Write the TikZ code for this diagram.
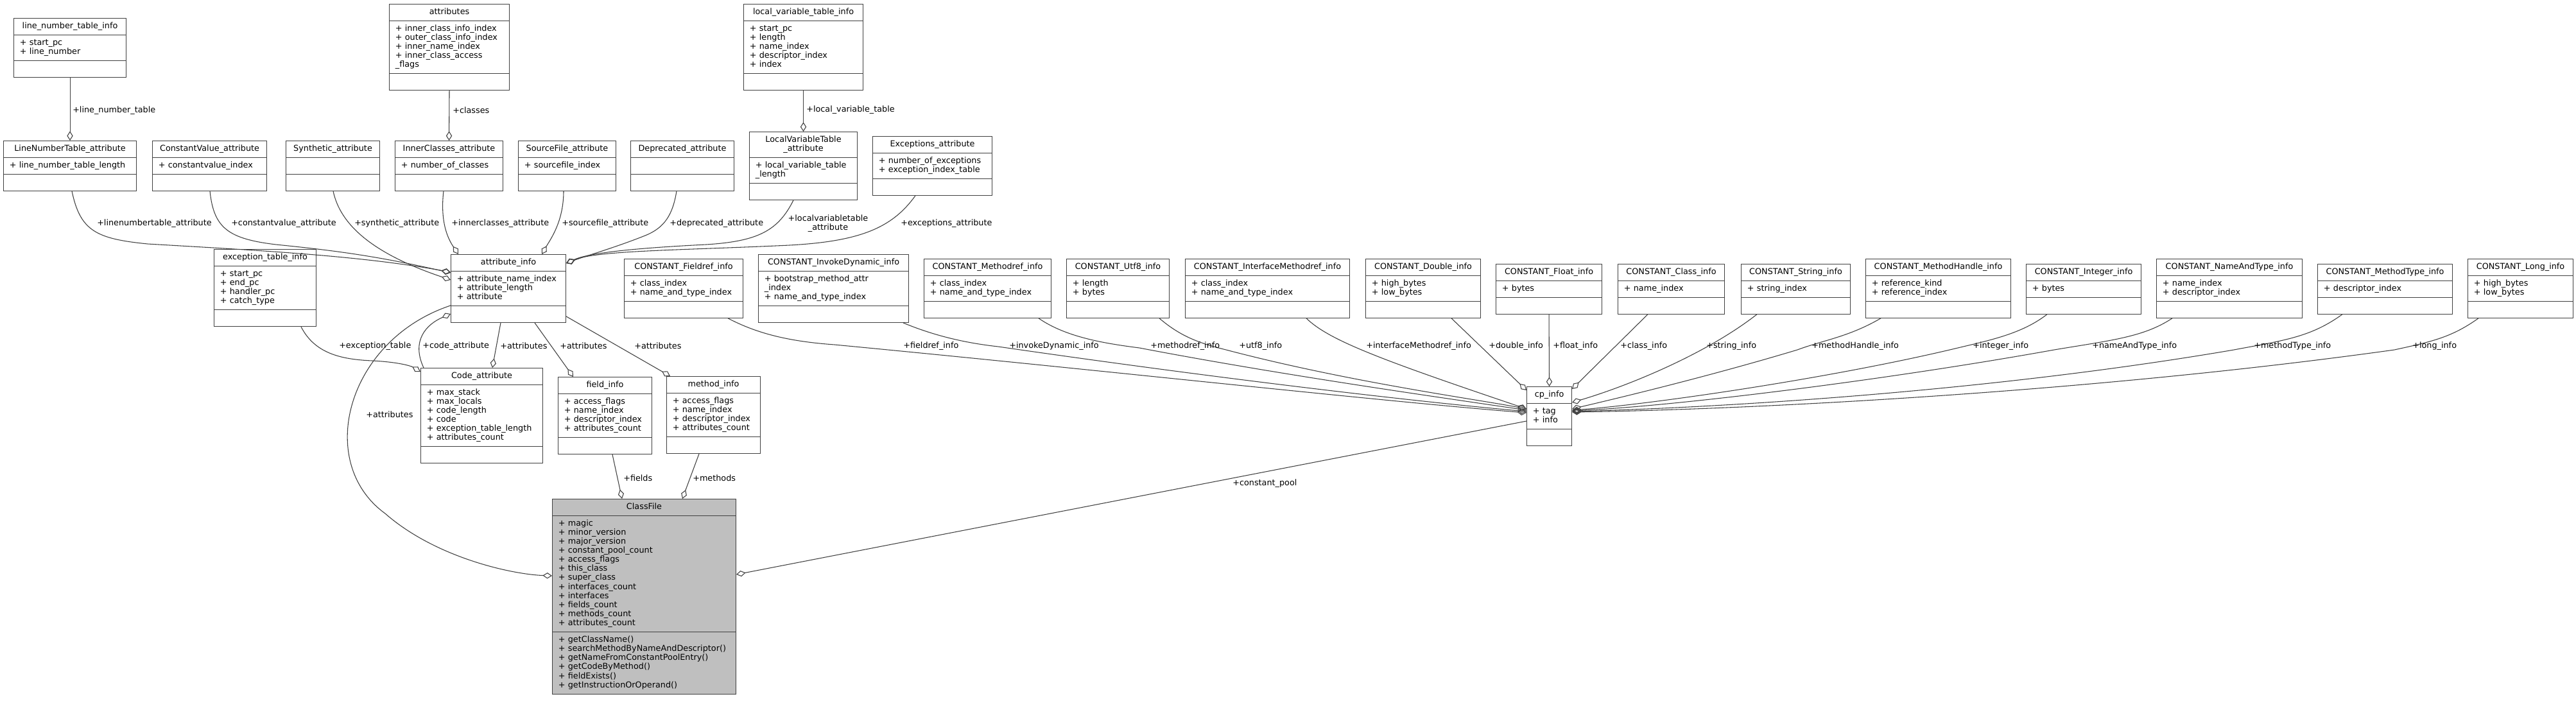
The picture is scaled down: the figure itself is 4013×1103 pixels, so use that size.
\documentclass[tikz,border=0pt]{standalone}
\usepackage{fontspec}
\setmainfont{DejaVu Sans}
\usetikzlibrary{shapes.multipart,arrows.meta,calc}
\definecolor{edgegray}{HTML}{404040}
\definecolor{focusgray}{HTML}{BFBFBF}
\newcommand{\umlfont}{\fontsize{9.6}{10.6}\selectfont}
\newcommand{\attr}[1]{\strut+ #1}
\newcommand{\ctitle}[1]{\makebox[\linewidth]{\strut #1}}
\tikzset{% class boxes in three parts: name, members, methods
   umlclass/.style={rectangle split, rectangle split parts=3, draw=edgegray,
      line width=0.8pt, fill=white, anchor=north west, text width=#1,
      inner xsep=7pt, inner ysep=4pt, align=left, font=\umlfont},
   focusclass/.style={umlclass=#1, fill=focusgray},
   % aggregation: open diamond at the owning class
   agg/.style={draw=edgegray, line width=0.8pt,
      -{Diamond[open, length=11pt, width=7pt]}},
   role/.style={inner sep=0pt, anchor=west, font=\umlfont}
}

\begin{document}
\begin{tikzpicture}[x=0.75pt, y=-0.75pt]
\path[use as bounding box, fill=white] (0,0) rectangle (4013,1103);

% attribute classes
\node[umlclass=117.25pt] (lnti) at (21,28) {\ctitle{line\_number\_table\_info}\nodepart{two}\attr{start\_pc}\\\attr{line\_number}\nodepart{three}\strut};
\node[umlclass=126.25pt] (attrs) at (606,6) {\ctitle{attributes}\nodepart{two}\attr{inner\_class\_info\_index}\\\attr{outer\_class\_info\_index}\\\attr{inner\_name\_index}\\\attr{inner\_class\_access}\\\strut\_flags\nodepart{three}\strut};
\node[umlclass=125.5pt] (lvti) at (1158,6) {\ctitle{local\_variable\_table\_info}\nodepart{two}\attr{start\_pc}\\\attr{length}\\\attr{name\_index}\\\attr{descriptor\_index}\\\attr{index}\nodepart{three}\strut};
\node[umlclass=141.25pt] (lnta) at (5,219) {\ctitle{LineNumberTable\_attribute}\nodepart{two}\attr{line\_number\_table\_length}\nodepart{three}\strut};
\node[umlclass=119.5pt] (cva) at (237,219) {\ctitle{ConstantValue\_attribute}\nodepart{two}\attr{constantvalue\_index}\nodepart{three}\strut};
\node[umlclass=95.5pt] (synth) at (445,219) {\ctitle{Synthetic\_attribute}\nodepart{two}\strut\nodepart{three}\strut};
\node[umlclass=112pt] (inner) at (615,219) {\ctitle{InnerClasses\_attribute}\nodepart{two}\attr{number\_of\_classes}\nodepart{three}\strut};
\node[umlclass=100pt] (srcf) at (807,219) {\ctitle{SourceFile\_attribute}\nodepart{two}\attr{sourcefile\_index}\nodepart{three}\strut};
\node[umlclass=106.75pt] (depr) at (982,219) {\ctitle{Deprecated\_attribute}\nodepart{two}\strut\nodepart{three}\strut};
\node[umlclass=112pt] (lvta) at (1167,205) {\ctitle{LocalVariableTable}\\\ctitle{\_attribute}\nodepart{two}\attr{local\_variable\_table}\\\strut\_length\nodepart{three}\strut};
\node[umlclass=125.5pt] (excattr) at (1359,212) {\ctitle{Exceptions\_attribute}\nodepart{two}\attr{number\_of\_exceptions}\\\attr{exception\_index\_table}\nodepart{three}\strut};
\node[umlclass=105.25pt] (eti) at (333,388) {\ctitle{exception\_table\_info}\nodepart{two}\attr{start\_pc}\\\attr{end\_pc}\\\attr{handler\_pc}\\\attr{catch\_type}\nodepart{three}\strut};
\node[umlclass=120.25pt] (ainfo) at (702,396) {\ctitle{attribute\_info}\nodepart{two}\attr{attribute\_name\_index}\\\attr{attribute\_length}\\\attr{attribute}\nodepart{three}\strut};
\node[umlclass=128.5pt] (code) at (655,573) {\ctitle{Code\_attribute}\nodepart{two}\attr{max\_stack}\\\attr{max\_locals}\\\attr{code\_length}\\\attr{code}\\\attr{exception\_table\_length}\\\attr{attributes\_count}\nodepart{three}\strut};
\node[umlclass=95.5pt] (field) at (869,587) {\ctitle{field\_info}\nodepart{two}\attr{access\_flags}\\\attr{name\_index}\\\attr{descriptor\_index}\\\attr{attributes\_count}\nodepart{three}\strut};
\node[umlclass=95.5pt] (method) at (1038,586) {\ctitle{method\_info}\nodepart{two}\attr{access\_flags}\\\attr{name\_index}\\\attr{descriptor\_index}\\\attr{attributes\_count}\nodepart{three}\strut};
\node[focusclass=200.5pt] (cfile) at (860,777) {\ctitle{ClassFile}\nodepart{two}\attr{magic}\\\attr{minor\_version}\\\attr{major\_version}\\\attr{constant\_pool\_count}\\\attr{access\_flags}\\\attr{this\_class}\\\attr{super\_class}\\\attr{interfaces\_count}\\\attr{interfaces}\\\attr{fields\_count}\\\attr{methods\_count}\\\attr{attributes\_count}\nodepart{three}\attr{getClassName()}\\\attr{searchMethodByNameAndDescriptor()}\\\attr{getNameFromConstantPoolEntry()}\\\attr{getCodeByMethod()}\\\attr{fieldExists()}\\\attr{getInstructionOrOperand()}};

% constant pool classes
\node[umlclass=124.75pt] (cfield) at (972,403) {\ctitle{CONSTANT\_Fieldref\_info}\nodepart{two}\attr{class\_index}\\\attr{name\_and\_type\_index}\nodepart{three}\strut};
\node[umlclass=161.5pt] (cinvoke) at (1181,396) {\ctitle{CONSTANT\_InvokeDynamic\_info}\nodepart{two}\attr{bootstrap\_method\_attr}\\\strut\_index\\\attr{name\_and\_type\_index}\nodepart{three}\strut};
\node[umlclass=134.5pt] (cmethod) at (1439,403) {\ctitle{CONSTANT\_Methodref\_info}\nodepart{two}\attr{class\_index}\\\attr{name\_and\_type\_index}\nodepart{three}\strut};
\node[umlclass=106pt] (cutf) at (1661,403) {\ctitle{CONSTANT\_Utf8\_info}\nodepart{two}\attr{length}\\\attr{bytes}\nodepart{three}\strut};
\node[umlclass=178pt] (ciface) at (1846,403) {\ctitle{CONSTANT\_InterfaceMethodref\_info}\nodepart{two}\attr{class\_index}\\\attr{name\_and\_type\_index}\nodepart{three}\strut};
\node[umlclass=120.25pt] (cdouble) at (2127,403) {\ctitle{CONSTANT\_Double\_info}\nodepart{two}\attr{high\_bytes}\\\attr{low\_bytes}\nodepart{three}\strut};
\node[umlclass=109.75pt] (cfloat) at (2330,411) {\ctitle{CONSTANT\_Float\_info}\nodepart{two}\attr{bytes}\nodepart{three}\strut};
\node[umlclass=110.5pt] (cclass) at (2520,411) {\ctitle{CONSTANT\_Class\_info}\nodepart{two}\attr{name\_index}\nodepart{three}\strut};
\node[umlclass=113.5pt] (cstring) at (2712,411) {\ctitle{CONSTANT\_String\_info}\nodepart{two}\attr{string\_index}\nodepart{three}\strut};
\node[umlclass=155.5pt] (chandle) at (2906,403) {\ctitle{CONSTANT\_MethodHandle\_info}\nodepart{two}\attr{reference\_kind}\\\attr{reference\_index}\nodepart{three}\strut};
\node[umlclass=120.25pt] (cint) at (3156,411) {\ctitle{CONSTANT\_Integer\_info}\nodepart{two}\attr{bytes}\nodepart{three}\strut};
\node[umlclass=156.25pt] (cnat) at (3359,403) {\ctitle{CONSTANT\_NameAndType\_info}\nodepart{two}\attr{name\_index}\\\attr{descriptor\_index}\nodepart{three}\strut};
\node[umlclass=143.5pt] (cmtype) at (3610,411) {\ctitle{CONSTANT\_MethodType\_info}\nodepart{two}\attr{descriptor\_index}\nodepart{three}\strut};
\node[umlclass=109pt] (clong) at (3844,403) {\ctitle{CONSTANT\_Long\_info}\nodepart{two}\attr{high\_bytes}\\\attr{low\_bytes}\nodepart{three}\strut};
\node[umlclass=38.5pt] (cp) at (2378,602) {\ctitle{cp\_info}\nodepart{two}\attr{tag}\\\attr{info}\nodepart{three}\strut};

% members of the attribute classes
\draw[agg] (lnti.south) -- (lnta.north);
\draw[agg] (attrs.south) -- (inner.north);
\draw[agg] (lvti.south) -- (lvta.north);
\node[role] (rlnt) at (113,172) {+line\_number\_table};
\node[role] (rcls) at (705,172) {+classes};
\node[role] (rlvt) at (1256,171) {+local\_variable\_table};

\draw[agg] ($(lnta.south west)+(107,0)$) .. controls (125,360) and (150,372) .. (230,380)
   .. controls (400,390) and (560,398) .. ($(ainfo.north west)+(0,28)$);
\draw[agg] ($(cva.south west)+(90,0)$) .. controls (333,355) and (355,372) .. (430,381)
   .. controls (540,392) and (600,402) .. ($(ainfo.north west)+(0,29)$);
\draw[agg] ($(synth.south west)+(74,0)$) .. controls (530,350) and (580,395) .. ($(ainfo.north west)+(0,40)$);
\draw[agg] ($(inner.south west)+(76,0)$) .. controls (685,350) and (700,375) .. ($(ainfo.north west)+(12,0)$);
\draw[agg] ($(srcf.south west)+(71,0)$) .. controls (878,345) and (858,372) .. ($(ainfo.north east)+(-38,0)$);
\draw[agg] ($(depr.south west)+(72,0)$) .. controls (1048,335) and (1035,355) .. (1005,367)
   .. controls (960,385) and (915,398) .. ($(ainfo.north east)+(0,14)$);
\draw[agg] ($(lvta.south west)+(69,0)$) .. controls (1212,360) and (1180,376) .. (1100,381)
   .. controls (1000,386) and (920,393) .. ($(ainfo.north east)+(0,14)$);
\draw[agg] ($(excattr.south west)+(67,0)$) .. controls (1390,355) and (1340,376) .. (1230,382)
   .. controls (1060,390) and (930,390) .. ($(ainfo.north east)+(0,14)$);
\node[role] (rlnta) at (151,348) {+linenumbertable\_attribute};
\node[role] (rcva) at (360,348) {+constantvalue\_attribute};
\node[role] (rsyn) at (552,348) {+synthetic\_attribute};
\node[role] (rinn) at (703,348) {+innerclasses\_attribute};
\node[role] (rsrc) at (875,348) {+sourcefile\_attribute};
\node[role] (rdep) at (1043,348) {+deprecated\_attribute};
\node[role, anchor=center, align=center] (rlvta) at (1290,348) {+localvariabletable\\\_attribute};
\node[role] (rexc) at (1403,348) {+exceptions\_attribute};

\draw[agg] ($(eti.south west)+(136,0)$) .. controls (490,550) and (530,560) .. (580,562)
   .. controls (620,564) and (640,570) .. ($(code.north west)+(0,6)$);
\draw[agg] ($(code.north west)+(5,0)$) .. controls (640,530) and (665,505) .. ($(ainfo.south west)+(0,-14)$);
\draw[agg] ($(ainfo.south west)+(78,0)$) -- ($(code.north west)+(112,0)$);
\draw[agg] ($(ainfo.south west)+(131,0)$) -- ($(field.north west)+(24,0)$);
\draw[agg] ($(ainfo.south east)+(0,-10)$) -- ($(method.north west)+(6,0)$);
\draw[agg] ($(ainfo.south west)+(0,-27)$) .. controls (540,530) and (490,720) .. (600,800)
   .. controls (680,870) and (800,895) .. ($(cfile.north west)+(0,120)$);
\node[role] (retab) at (528,539) {+exception\_table};
\node[role] (rcode) at (658,539) {+code\_attribute};
\node[role] (rattr1) at (779,539) {+attributes};
\node[role] (rattr2) at (872,539) {+attributes};
\node[role] (rattr3) at (988,539) {+attributes};
\node[role] (rattr4) at (570,646) {+attributes};

% members of ClassFile
\draw[agg] ($(field.south west)+(85,0)$) -- ($(cfile.north west)+(109,0)$);
\draw[agg] ($(method.south west)+(51,0)$) -- ($(cfile.north west)+(203,0)$);
\draw[agg] ($(cp.north west)+(0,54)$) -- ($(cfile.north east)+(0,118)$);
\node[role] (rfld) at (971,745) {+fields};
\node[role] (rmth) at (1079,745) {+methods};
\node[role] (rpool) at (1920,753) {+constant\_pool};

% members of cp_info
\draw[agg] ($(cfield.south west)+(162,0)$) .. controls (1180,520) and (1230,532) .. (1300,537)
   .. controls (1700,575) and (2150,625) .. ($(cp.north west)+(0,41)$);
\draw[agg] ($(cinvoke.south west)+(226,0)$) .. controls (1460,525) and (1510,535) .. (1555,540)
   .. controls (1900,590) and (2200,625) .. ($(cp.north west)+(0,39)$);
\draw[agg] ($(cmethod.south west)+(179,0)$) .. controls (1660,525) and (1720,535) .. (1775,542)
   .. controls (2000,585) and (2250,620) .. ($(cp.north west)+(0,37)$);
\draw[agg] ($(cutf.south west)+(145,0)$) .. controls (1840,525) and (1870,535) .. (1910,545)
   .. controls (2100,595) and (2300,622) .. ($(cp.north west)+(0,35)$);
\draw[agg] ($(ciface.south west)+(189,0)$) .. controls (2070,530) and (2150,560) .. ($(cp.north west)+(0,35)$);
\draw[agg] ($(cdouble.south west)+(134,0)$) -- ($(cp.north west)+(0,6)$);
\draw[agg] (cfloat.south) -- (cp.north);
\draw[agg] ($(cclass.south west)+(47,0)$) -- ($(cp.north east)+(0,4)$);
\draw[agg] ($(cstring.south west)+(25,0)$) .. controls (2660,550) and (2540,600) .. ($(cp.north east)+(0,25)$);
\draw[agg] ($(chandle.south west)+(24,0)$) .. controls (2880,525) and (2840,530) .. (2800,545)
   .. controls (2650,590) and (2500,625) .. ($(cp.north east)+(0,35)$);
\draw[agg] ($(cint.south west)+(33,0)$) .. controls (3150,520) and (3100,530) .. (3050,542)
   .. controls (2850,590) and (2570,630) .. ($(cp.north east)+(0,37)$);
\draw[agg] ($(cnat.south west)+(25,0)$) .. controls (3340,525) and (3290,530) .. (3200,545)
   .. controls (2950,590) and (2620,632) .. ($(cp.north east)+(0,38)$);
\draw[agg] ($(cmtype.south west)+(39,0)$) .. controls (3600,525) and (3560,530) .. (3480,545)
   .. controls (3100,610) and (2680,635) .. ($(cp.north east)+(0,39)$);
\draw[agg] ($(clong.south west)+(17,0)$) .. controls (3820,525) and (3790,532) .. (3730,545)
   .. controls (3250,612) and (2720,638) .. ($(cp.north east)+(0,40)$);
\node[role] (rfref) at (1407,539) {+fieldref\_info};
\node[role] (rinv) at (1572,539) {+invokeDynamic\_info};
\node[role] (rmref) at (1792,539) {+methodref\_info};
\node[role] (rutf) at (1930,539) {+utf8\_info};
\node[role] (rifc) at (2128,539) {+interfaceMethodref\_info};
\node[role] (rdbl) at (2319,539) {+double\_info};
\node[role] (rflt) at (2419,539) {+float\_info};
\node[role] (rcl) at (2524,539) {+class\_info};
\node[role] (rstr) at (2658,539) {+string\_info};
\node[role] (rmh) at (2822,539) {+methodHandle\_info};
\node[role] (rint) at (3073,539) {+integer\_info};
\node[role] (rnat) at (3259,539) {+nameAndType\_info};
\node[role] (rmt) at (3511,539) {+methodType\_info};
\node[role] (rlng) at (3758,539) {+long\_info};
\end{tikzpicture}
\end{document}
